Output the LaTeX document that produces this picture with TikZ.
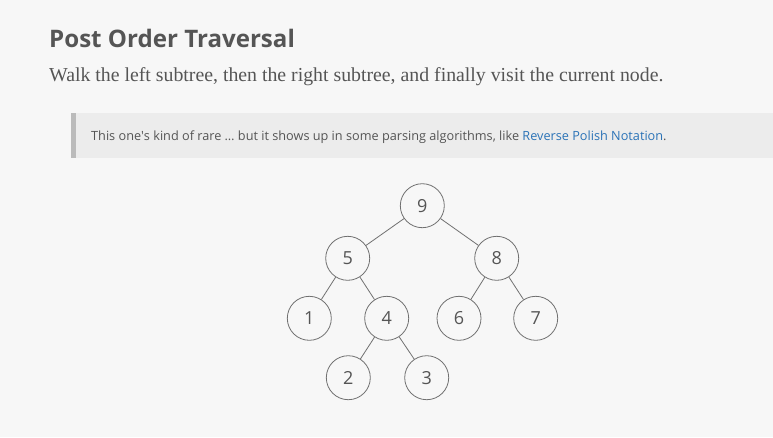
\documentclass[tikz,border=0pt]{standalone}
\usepackage{fontspec}
\setmainfont{Liberation Serif}
\setsansfont{Open Sans}
\usepackage{xcolor}
\definecolor{pagegrey}{HTML}{F7F7F7}
\definecolor{quotegrey}{HTML}{ECECEC}
\definecolor{bargrey}{HTML}{BBBBBB}
\definecolor{textgrey}{HTML}{555555}
\definecolor{linkblue}{HTML}{2B73B7}
\definecolor{treegrey}{HTML}{707070}
\usetikzlibrary{positioning}

\tikzset{
	treenode/.style={circle, draw=treegrey, fill=pagegrey, line width=0.8pt, minimum size=44pt, inner sep=0pt, text=textgrey, font=\sffamily\fontsize{18}{18}\selectfont},
	treeedge/.style={treegrey, line width=0.8pt},
	pagetext/.style={anchor=base west, inner sep=0pt, text=textgrey}
}

\begin{document}
\begin{tikzpicture}[x=1pt,y=-1pt]
				%page
				\fill[pagegrey] (0,0) rectangle (773,437);
				\useasboundingbox (0,0) rectangle (773,437);
				
				%heading
				\node[pagetext, font=\sffamily\bfseries\fontsize{24.1}{24}\selectfont] (title) at (49,47) {Post Order Traversal};
				\node[pagetext, font=\fontsize{19.8}{20}\selectfont] (intro) at (49,81) {Walk the left subtree, then the right subtree, and finally visit the current node.};
				
				%quote
				\fill[quotegrey] (71,113) rectangle (773,157.5);
				\fill[bargrey] (71,113) rectangle (75.5,157.5);
				\node[pagetext, font=\sffamily\fontsize{12.7}{13}\selectfont] (quote) at (91,140) {This one\textquotesingle s kind of rare … but it shows up in some parsing algorithms, like \textcolor{linkblue}{Reverse Polish Notation}.};
				
				%tree nodes
				\node[treenode] (n9) at (422.3,205.7) {9};
				\node[treenode] (n5) at (347.7,258.3) {5};
				\node[treenode] (n8) at (496.7,258.3) {8};
				\node[treenode] (n1) at (309.3,318.3) {1};
				\node[treenode] (n4) at (386.7,318.3) {4};
				\node[treenode] (n6) at (459,318.3) {6};
				\node[treenode] (n7) at (535.7,318.3) {7};
				\node[treenode] (n2) at (348.3,377.7) {2};
				\node[treenode] (n3) at (426.7,377.7) {3};
				
				%tree edges
				\draw[treeedge] (n9) -- (n5);
				\draw[treeedge] (n9) -- (n8);
				\draw[treeedge] (n5) -- (n1);
				\draw[treeedge] (n5) -- (n4);
				\draw[treeedge] (n8) -- (n6);
				\draw[treeedge] (n8) -- (n7);
				\draw[treeedge] (n4) -- (n2);
				\draw[treeedge] (n4) -- (n3);
\end{tikzpicture}
\end{document}
